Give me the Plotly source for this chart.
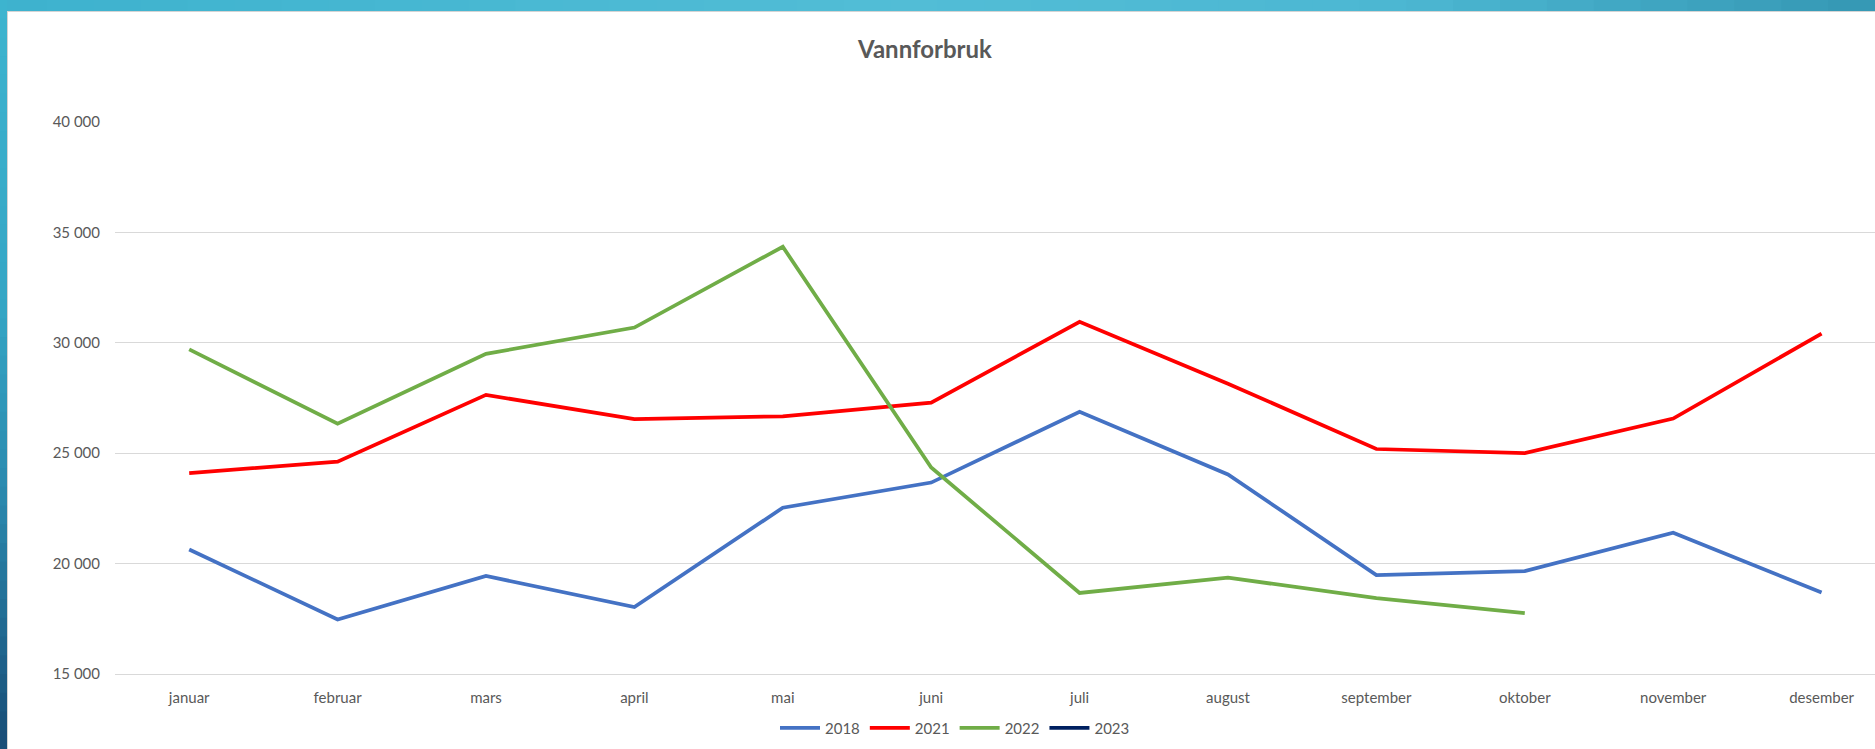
import plotly.graph_objects as go

months = ["januar", "februar", "mars", "april", "mai", "juni", "juli",
          "august", "september", "oktober", "november", "desember"]

v2018 = [20640, 17470, 19440, 18030, 22530, 23670, 26880, 24040, 19480, 19660, 21400, 18690]
v2021 = [24100, 24620, 27640, 26540, 26670, 27290, 30950, 28150, 25190, 25000, 26570, 30420]
v2022 = [29700, 26340, 29500, 30690, 34350, 24350, 18670, 19360, 18440, 17760, None, None]
v2023 = [None] * 12

series_names = ["2018", "2021", "2022", "2023"]
series_values = [v2018, v2021, v2022, v2023]
series_colors = ["#4472C4", "#FF0000", "#70AD47", "#002060"]

W, H = 1875, 749
ML, MR, MT, MB = 115, 0, 122, 75
PW = W - ML - MR
PH = H - MT - MB


def px_x(px):
    return (px - ML) / PW


def px_y(py):
    return (H - MB - py) / PH


def hex2rgb(h):
    h = h.lstrip("#")
    return tuple(int(h[i:i + 2], 16) for i in (0, 2, 4))


def interp(stops, t):
    for (t0, c0), (t1, c1) in zip(stops, stops[1:]):
        if t0 <= t <= t1:
            f = (t - t0) / (t1 - t0) if t1 > t0 else 0
            a, b = hex2rgb(c0), hex2rgb(c1)
            return "rgb(%d,%d,%d)" % tuple(round(a[i] + (b[i] - a[i]) * f) for i in range(3))
    return stops[-1][1]


fig = go.Figure()
for name, vals, col in zip(series_names, series_values, series_colors):
    fig.add_trace(go.Scatter(
        x=months, y=vals, name=name, mode="lines",
        line=dict(color=col, width=3.75),
        connectgaps=False,
    ))

shapes = []
# top teal band (horizontal gradient)
top_stops = [(0, "#3db2ce"), (900, "#52bdd6"), (1400, "#4cb7d2"), (1875, "#3597b4")]
n = 40
for i in range(n):
    x0 = W * i / n
    x1 = W * (i + 1) / n + 1
    shapes.append(dict(type="rect", xref="paper", yref="paper",
                       x0=px_x(x0), x1=px_x(x1), y0=px_y(11), y1=px_y(0),
                       fillcolor=interp(top_stops, (x0 + x1) / 2), line=dict(width=0), layer="above"))
# left teal band (vertical gradient)
left_stops = [(0, "#3db4cf"), (300, "#35a6c5"), (500, "#2a88ad"), (749, "#184c76")]
for i in range(n):
    y0 = H * i / n
    y1 = H * (i + 1) / n + 1
    shapes.append(dict(type="rect", xref="paper", yref="paper",
                       x0=px_x(0), x1=px_x(7), y0=px_y(y1), y1=px_y(y0),
                       fillcolor=interp(left_stops, (y0 + y1) / 2), line=dict(width=0), layer="above"))
# faint border of chart area
shapes.append(dict(type="line", xref="paper", yref="paper",
                   x0=px_x(7.5), x1=px_x(7.5), y0=px_y(H), y1=px_y(11),
                   line=dict(color="#d4d4d4", width=1)))
shapes.append(dict(type="line", xref="paper", yref="paper",
                   x0=px_x(7.5), x1=px_x(W), y0=px_y(11.5), y1=px_y(11.5),
                   line=dict(color="#d4d4d4", width=1)))

font_family = "Lato, 'Open Sans', sans-serif"

fig.update_layout(
    width=W, height=H,
    margin=dict(l=ML, r=MR, t=MT, b=MB, autoexpand=False),
    paper_bgcolor="white", plot_bgcolor="white",
    separators=", ",
    font=dict(family=font_family, size=15, color="#595959"),
    title=dict(text="<b>Vannforbruk</b>", x=925 / W, xanchor="center", xref="container",
               y=1 - 50 / H, yanchor="middle", yref="container",
               font=dict(family=font_family, size=24, color="#595959")),
    showlegend=True,
    legend=dict(orientation="h", x=px_x(955), xanchor="center", y=px_y(728), yanchor="middle",
                font=dict(family=font_family, size=15, color="#595959"),
                itemwidth=40, traceorder="normal", bgcolor="rgba(0,0,0,0)"),
    shapes=shapes,
    xaxis=dict(type="category", categoryorder="array", categoryarray=months,
               range=[-0.5, 11.36], showgrid=False, zeroline=False,
               showline=True, linecolor="#d9d9d9", linewidth=1,
               ticks="", ticklabelstandoff=10,
               tickfont=dict(family=font_family, size=15, color="#595959")),
    yaxis=dict(range=[15000, 40000], dtick=5000, tick0=15000, tickformat=",d",
               showgrid=True, gridcolor="#d9d9d9", gridwidth=1,
               zeroline=False, showline=False, ticks="", ticklabelstandoff=14,
               tickfont=dict(family=font_family, size=15, color="#595959")),
)

fig.write_html("out.html",
               config={"displayModeBar": False},
               post_script="document.body.style.margin='0';document.body.style.padding='0';"
                           "document.body.style.overflow='hidden';")
